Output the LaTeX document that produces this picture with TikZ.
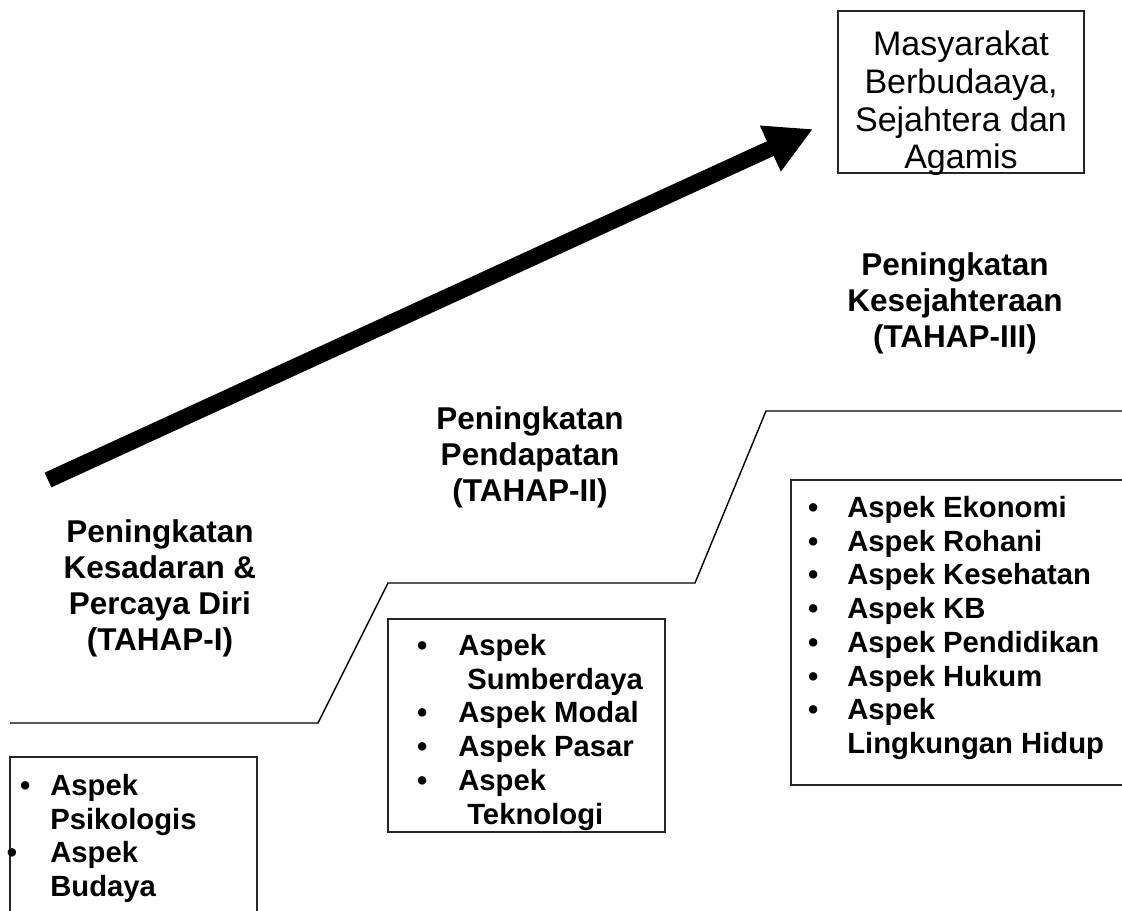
\documentclass[tikz,border=0pt]{standalone}
\usepackage{fontspec}
\setmainfont{Liberation Sans}
\usetikzlibrary{arrows.meta}
\newcommand{\butir}[1]{\llap{\textbullet\hspace{#1}}}

\begin{document}
\begin{tikzpicture}[x=0.025cm, y=-0.025cm,
	tahap/.style={anchor=north, inner sep=0pt, align=center,
		font=\bfseries\fontsize{22.4pt}{25.6pt}\selectfont},
	aspek/.style={anchor=north west, inner sep=0pt, align=left,
		font=\bfseries\fontsize{20.8pt}{24pt}\selectfont},
	kotak/.style={line width=1.1pt, color=black!85}]
		%%%%% START %%%%%
		\useasboundingbox (0, 0) rectangle (1122, 911);
		
		% tujuan akhir
		\draw[kotak] (838, 11) rectangle (1084, 173);
		\node[anchor=north, inner sep=0pt, align=center,
			font=\fontsize{24.2pt}{26.8pt}\selectfont] (tujuan) at (961, 31)
			{Masyarakat\\Berbudaaya,\\Sejahtera dan\\Agamis};
		
		% panah besar
		\coordinate (awal) at (48, 480);
		\coordinate (ujung) at (813, 129);
		\draw[line width=11.5pt, -{Triangle[length=33.4pt, width=33.4pt]}] (awal) -- (ujung);
		
		% tangga
		\draw[line width=1pt] (10, 723) -- (318, 723) -- (388, 583) -- (695, 583)
			-- (766, 411) -- (1122, 411);
		
		% judul tahap
		\node[tahap] (tahap1) at (160, 519.5) {Peningkatan\\Kesadaran \&\\Percaya Diri\\(TAHAP-I)};
		\node[tahap] (tahap2) at (530, 406.5) {Peningkatan\\Pendapatan\\(TAHAP-II)};
		\node[tahap] (tahap3) at (955, 252.5) {Peningkatan\\Kesejahteraan\\(TAHAP-III)};
		
		% kotak aspek
		\draw[kotak] (10, 911) -- (10, 757) -- (257, 757) -- (257, 911);
		\node[aspek] (aspek1) at (50, 774) {\butir{14.2pt}Aspek\\Psikologis\\
			\butir{23.5pt}Aspek\\Budaya};
		
		\draw[kotak] (388, 619) rectangle (665, 832);
		\node[aspek] (aspek2) at (458, 634) {\butir{22pt}Aspek\\\hspace*{6.4pt}Sumberdaya\\
			\butir{22pt}Aspek Modal\\\butir{22pt}Aspek Pasar\\
			\butir{22pt}Aspek\\\hspace*{6.4pt}Teknologi};
		
		\draw[kotak] (1122, 480) -- (791, 480) -- (791, 785) -- (1122, 785);
		\node[aspek] (aspek3) at (847, 496) {\butir{20.6pt}Aspek Ekonomi\\
			\butir{20.6pt}Aspek Rohani\\\butir{20.6pt}Aspek Kesehatan\\
			\butir{20.6pt}Aspek KB\\\butir{20.6pt}Aspek Pendidikan\\
			\butir{20.6pt}Aspek Hukum\\\butir{20.6pt}Aspek\\Lingkungan Hidup};
		%%%%% END %%%%%
\end{tikzpicture}
\end{document}
